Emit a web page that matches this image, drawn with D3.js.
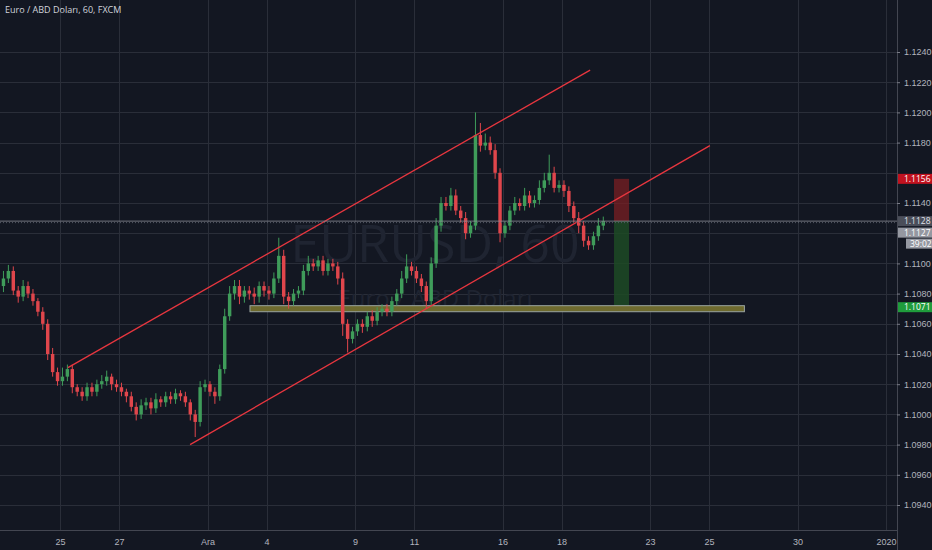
<!DOCTYPE html>
<html><head><meta charset="utf-8">
<script src="https://cdn.jsdelivr.net/npm/d3@7"></script>
<style>body{margin:0;background:#131722}svg{display:block;font-family:"Open Sans",sans-serif}</style>
</head><body><div id="chart"></div>
<script>
// 4h closes, six per trading day (day 0 = Nov 25)
var closes = [
  1.1090,1.1095,1.1082,1.1078,1.1085,1.1080,
  1.1075,1.1068,1.1060,1.1040,1.1028,1.1022,
  1.1025,1.1030,1.1018,1.1015,1.1012,1.1018,
  1.1015,1.1020,1.1022,1.1025,1.1020,1.1018,
  1.1015,1.1012,1.1005,1.1000,1.1006,1.1008,
  1.1004,1.1010,1.1008,1.1012,1.1010,1.1014,
  1.1012,1.1008,1.1000,1.0995,1.1018,1.1020,
  1.1015,1.1012,1.1030,1.1065,1.1080,1.1085,
  1.1078,1.1082,1.1080,1.1078,1.1085,1.1082,
  1.1080,1.1090,1.1105,1.1078,1.1075,1.1080,
  1.1082,1.1095,1.1100,1.1098,1.1102,1.1095,
  1.1100,1.1098,1.1090,1.1060,1.1050,1.1055,
  1.1060,1.1058,1.1065,1.1062,1.1068,1.1070,
  1.1068,1.1075,1.1080,1.1090,1.1098,1.1095,
  1.1090,1.1085,1.1075,1.1100,1.1125,1.1140,
  1.1138,1.1145,1.1135,1.1130,1.1120,1.1125,
  1.1185,1.1178,1.1180,1.1175,1.1160,1.1120,
  1.1125,1.1135,1.1140,1.1138,1.1145,1.1140,
  1.1142,1.1150,1.1155,1.1160,1.1150,1.1152,
  1.1148,1.1138,1.1130,1.1125,1.1115,1.1112,
  1.1118,1.1125,1.1128
];
var firstOpen = 1.1085;
// wick lengths in pips above / below the body
var wickUp = [
  5,4,3,3,4,3, 3,2,3,3,4,3, 6,3,3,2,3,3, 3,3,4,4,2,3, 3,2,3,3,4,3,
  3,4,2,3,3,3, 2,3,2,3,4,3, 2,3,3,5,5,4, 4,3,3,4,3,3, 3,4,12,4,3,3,
  3,4,5,3,3,3, 3,3,3,4,3,3, 3,3,3,4,3,3, 3,3,3,5,8,3, 3,3,3,4,5,4,
  4,5,4,3,4,3, 15,8,6,4,4,3, 3,3,4,3,5,3, 3,5,5,12,4,3, 3,3,3,4,3,3, 3,5,3
];
var wickDown = [
  4,3,3,4,3,3, 3,3,4,4,3,3, 3,3,4,3,3,3, 3,3,3,3,4,3, 3,4,3,4,3,3,
  4,3,3,3,3,3, 3,3,4,10,3,3, 3,5,3,3,3,4, 5,4,4,5,4,4, 4,3,3,5,5,3,
  3,3,3,3,3,3, 3,3,4,8,9,3, 3,4,3,4,3,3, 3,3,3,3,3,3, 3,4,5,3,3,4,
  3,3,3,3,4,3, 3,4,3,3,4,6, 3,3,3,3,3,3, 3,3,3,3,3,3, 4,4,3,5,4,3, 3,3,3
];
var priceTicks = [1.094,1.096,1.098,1.100,1.102,1.104,1.106,1.108,1.110,1.112,1.114,1.116,1.118,1.120,1.122,1.124];
var hiddenTicks = [1.112,1.116];
var dayTicks = [0,2,5,7,10,12,15,17,20,22,25,28];
var dayLabels = ["25","27","Ara","4","9","11","16","18","23","25","30","2020"];
var upperChannel = [[0.27,1.1031],[17.97,1.1228]];
var lowerChannel = [[4.41,1.0980],[22.03,1.1178]];
var zone = {d0:6.44, d1:23.2, top:1.1072, bottom:1.1068};
var position = {d0:18.78, d1:19.29, stop:1.1156, entry:1.1128, target:1.1071};
var lastPrice = 1.1128, bidPrice = 1.1127;

var W = 932, H = 550, plotR = 897, plotB = 530;
var svg = d3.select("#chart").append("svg").attr("width", W).attr("height", H);
svg.append("rect").attr("width", W).attr("height", H).attr("fill", "#131722");

var x = d3.scaleLinear().domain([0, 1]).range([60, 89.5]);
var y = d3.scaleLinear().domain([1.094, 1.124]).range([505, 52]);

var grid = svg.append("g").attr("stroke", "#2a2e39").attr("stroke-width", 1);
grid.selectAll(".h").data(priceTicks).enter().append("line")
  .attr("x1", 0).attr("x2", plotR).attr("y1", d => Math.round(y(d)) + .5).attr("y2", d => Math.round(y(d)) + .5);
grid.selectAll(".v").data(dayTicks).enter().append("line")
  .attr("y1", 0).attr("y2", plotB).attr("x1", d => Math.round(x(d)) + .5).attr("x2", d => Math.round(x(d)) + .5);

// watermark
svg.append("text").attr("x", 435).attr("y", 262).attr("text-anchor", "middle")
  .attr("font-size", 52).attr("fill", "#1f2431").text("EURUSD, 60");
svg.append("text").attr("x", 435).attr("y", 307).attr("text-anchor", "middle")
  .attr("font-size", 24).attr("fill", "#1f2431").text("Euro / ABD Doları");

// position box
svg.append("rect").attr("x", x(position.d0)).attr("width", x(position.d1) - x(position.d0))
  .attr("y", y(position.stop)).attr("height", y(position.entry) - y(position.stop)).attr("fill", "#7a1f23").attr("opacity", .75);
svg.append("rect").attr("x", x(position.d0)).attr("width", x(position.d1) - x(position.d0))
  .attr("y", y(position.entry)).attr("height", y(position.target) - y(position.entry)).attr("fill", "#1d4a25").attr("opacity", .85);

// zone rectangle
svg.append("rect").attr("x", x(zone.d0)).attr("width", x(zone.d1) - x(zone.d0))
  .attr("y", y(zone.top)).attr("height", y(zone.bottom) - y(zone.top))
  .attr("fill", "#6e6a2e").attr("stroke", "#9aa4a0").attr("stroke-width", 1);

// candles
var step = 1 / 6, cw = x(step) - x(0);
var candles = closes.map(function(c, i) {
  var o = i ? closes[i - 1] : firstOpen;
  return {t: i * step - 2, o: o, c: c,
    h: Math.max(o, c) + wickUp[i] / 10000, l: Math.min(o, c) - wickDown[i] / 10000};
});
var cg = svg.append("g");
candles.forEach(function(d) {
  var col = d.c >= d.o ? "#3f9c5a" : "#e0464c";
  var cx = x(d.t + step / 2);
  cg.append("line").attr("x1", cx).attr("x2", cx).attr("y1", y(d.h)).attr("y2", y(d.l)).attr("stroke", col);
  cg.append("rect").attr("x", cx - cw * 0.35).attr("width", cw * 0.7)
    .attr("y", y(Math.max(d.o, d.c))).attr("height", Math.max(1, Math.abs(y(d.o) - y(d.c)))).attr("fill", col);
});

// channel lines
var line = d3.line().x(d => x(d[0])).y(d => y(d[1]));
[upperChannel, lowerChannel].forEach(function(p) {
  svg.append("path").attr("d", line(p)).attr("stroke", "#e8363f").attr("stroke-width", 1.3).attr("fill", "none");
});

// last price lines
svg.append("line").attr("x1", 0).attr("x2", plotR).attr("y1", y(lastPrice)).attr("y2", y(lastPrice))
  .attr("stroke", "#8a8d96").attr("stroke-width", .8);
svg.append("line").attr("x1", 0).attr("x2", plotR).attr("y1", y(bidPrice)).attr("y2", y(bidPrice))
  .attr("stroke", "#555a66").attr("stroke-dasharray", "1,2");

// axes frame
svg.append("line").attr("x1", plotR + .5).attr("x2", plotR + .5).attr("y1", 0).attr("y2", H).attr("stroke", "#434651");
svg.append("line").attr("x1", 0).attr("x2", plotR).attr("y1", plotB + .5).attr("y2", plotB + .5).attr("stroke", "#434651");

var yAxis = d3.axisRight(y).tickValues(priceTicks.filter(v => !hiddenTicks.some(h => Math.abs(v - h) < 1e-6)))
  .tickFormat(d3.format(".4f")).tickSize(3);
var ya = svg.append("g").attr("transform", "translate(" + plotR + ",0)").call(yAxis);
ya.select(".domain").remove();
ya.selectAll("line").attr("stroke", "#787b86");
ya.selectAll("text").attr("fill", "#b2b5be").attr("font-size", 9).attr("x", 7);

var xAxis = d3.axisBottom(x).tickValues(dayTicks).tickFormat((d, i) => dayLabels[i]).tickSize(0);
var xa = svg.append("g").attr("transform", "translate(0," + plotB + ")").call(xAxis);
xa.select(".domain").remove();
xa.selectAll("text").attr("fill", "#b2b5be").attr("font-size", 9).attr("dy", "1.3em");

// price labels
function tag(v, txt, bg, fg, dy) {
  var yy = y(v) + (dy || 0);
  svg.append("rect").attr("x", plotR + 1).attr("y", yy - 5).attr("width", W - plotR).attr("height", 10).attr("fill", bg);
  svg.append("text").attr("x", plotR + 7).attr("y", yy + 3).attr("font-size", 8.5).attr("fill", fg).text(txt);
}
tag(position.stop, "1.1156", "#c1121f", "#fff");
tag(lastPrice, "1.1128", "#4a4e59", "#e0e3eb");
tag(bidPrice, "1.1127", "#9598a1", "#fff", 10);
svg.append("rect").attr("x", 906).attr("y", y(bidPrice) + 16).attr("width", 26).attr("height", 10).attr("fill", "#9598a1");
svg.append("text").attr("x", 910).attr("y", y(bidPrice) + 24).attr("font-size", 8.5).attr("fill", "#fff").text("39:02");
tag(position.target, "1.1071", "#1f9c3c", "#fff");

svg.append("text").attr("x", 5).attr("y", 13).attr("font-size", 9).attr("fill", "#d1d4dc").text("Euro / ABD Doları, 60, FXCM");
</script></body></html>
